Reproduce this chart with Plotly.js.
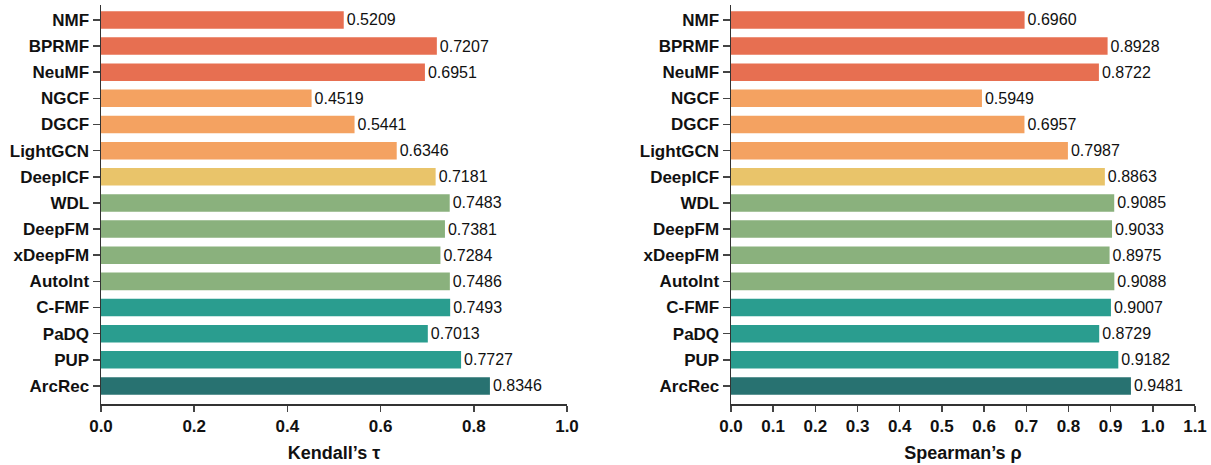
<!DOCTYPE html>
<html><head><meta charset="utf-8">
<script src="https://cdn.plot.ly/plotly-3.0.1.min.js"></script>
<style>body{margin:0;padding:0;background:#fff}#chart{width:1211px;height:465px}</style>
</head><body><div id="chart"></div>
<script>
const models = ["NMF","BPRMF","NeuMF","NGCF","DGCF","LightGCN","DeepICF","WDL","DeepFM","xDeepFM","AutoInt","C-FMF","PaDQ","PUP","ArcRec"];
const kendall = [0.5209,0.7207,0.6951,0.4519,0.5441,0.6346,0.7181,0.7483,0.7381,0.7284,0.7486,0.7493,0.7013,0.7727,0.8346];
const spearman = [0.6960,0.8928,0.8722,0.5949,0.6957,0.7987,0.8863,0.9085,0.9033,0.8975,0.9088,0.9007,0.8729,0.9182,0.9481];
const groupColors = ["#E76F51","#E76F51","#E76F51","#F4A261","#F4A261","#F4A261","#E9C46A","#8AB17D","#8AB17D","#8AB17D","#8AB17D","#2A9D8F","#2A9D8F","#2A9D8F","#287271"];
const xTitles = ["Kendall\u2019s \u03c4","Spearman\u2019s \u03c1"];

const font = "Liberation Sans, Arial, sans-serif";
const ink = "#111";
function bar(vals, xa, ya){
  return {type:"bar", orientation:"h", x:vals, y:models, xaxis:xa, yaxis:ya,
    marker:{color:groupColors, line:{width:0}}, width:0.67,
    text:vals.map(v=>v.toFixed(4)), textposition:"outside", cliponaxis:false,
    textfont:{family:font, size:16, color:ink}, hoverinfo:"x+y", showlegend:false};
}
const axLine = {showline:true, linecolor:"#333", linewidth:1.5, ticks:"outside", ticklen:6, tickwidth:1.5, tickcolor:"#444", showgrid:false, zeroline:false};
const yax = Object.assign({}, axLine, {type:"category", range:[14.69,-0.57], tickfont:{family:font,size:17,color:ink,weight:"bold"}, ticklen:7});
const xtf = {family:font,size:17,color:ink,weight:"bold"};
const ttf = {family:font,size:18,color:ink,weight:"bold"};
const layout = {
  width:1211, height:465, margin:{l:0,r:0,t:5,b:61}, paper_bgcolor:"#fff", plot_bgcolor:"#fff",
  xaxis: Object.assign({}, axLine, {domain:[101/1211,567/1211], range:[0,1], dtick:0.2, tickformat:".1f", anchor:"y",
    tickfont:xtf, title:{text:xTitles[0], font:ttf, standoff:11}}),
  yaxis: Object.assign({}, yax, {anchor:"x"}),
  xaxis2: Object.assign({}, axLine, {domain:[731/1211,1195/1211], range:[0,1.1], dtick:0.1, tickformat:".1f", anchor:"y2",
    tickfont:xtf, title:{text:xTitles[1], font:ttf, standoff:11}}),
  yaxis2: Object.assign({}, yax, {anchor:"x2"})
};
Plotly.newPlot("chart",[bar(kendall,"x","y"),bar(spearman,"x2","y2")],layout,{staticPlot:true});
</script></body></html>
